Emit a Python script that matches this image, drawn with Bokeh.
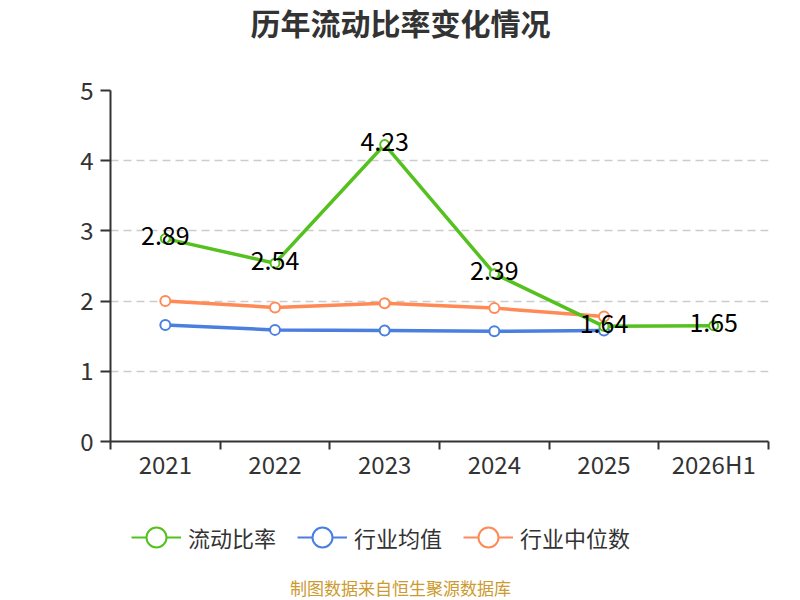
from bokeh.plotting import figure
from bokeh.layouts import column
from bokeh.models import (Legend, LegendItem, FixedTicker, ColumnDataSource,
                          LabelSet, Label, Range1d)
from bokeh.embed import file_html
from bokeh.resources import INLINE
from bokeh.core.properties import value

categories = ["2021", "2022", "2023", "2024", "2025", "2026H1"]
current_ratio = [2.89, 2.54, 4.23, 2.39, 1.64, 1.65]
industry_mean = [1.66, 1.59, 1.58, 1.57, 1.58]
industry_median = [2.00, 1.91, 1.97, 1.90, 1.78]
y_ticks = [0, 1, 2, 3, 4, 5]
series_names = ["流动比率", "行业均值", "行业中位数"]
title_text = "历年流动比率变化情况"
source_text = "制图数据来自恒生聚源数据库"

FONT = "Noto Sans CJK SC"
GREEN = "#55c11f"
BLUE = "#4a7fe0"
ORANGE = "#ff8a55"
AXIS = "#333333"
LW = 3.5

xc = [i + 0.5 for i in range(len(categories))]
series = [current_ratio, industry_mean, industry_median]
colors = [GREEN, BLUE, ORANGE]


def blank(height, y_range):
    f = figure(width=800, height=height, output_backend="svg", toolbar_location=None,
               x_axis_type=None, y_axis_type=None, min_border=0,
               x_range=Range1d(0, len(categories)), y_range=y_range,
               outline_line_color=None, background_fill_color="white",
               border_fill_color="white")
    f.xgrid.visible = False
    f.ygrid.visible = False
    return f


# ---- title strip (frame is aligned with the main chart frame, left edge at x=110) ----
pt = blank(70, Range1d(0, 1))
pt.add_layout(Label(x=290, y=49, x_units="screen", y_units="screen", text=title_text,
                    text_align="center", text_baseline="middle", text_font=FONT,
                    text_font_size="30px", text_font_style="bold", text_color="#333333"))

# ---- main chart ----
p = figure(frame_width=658, frame_height=351, output_backend="svg", toolbar_location=None,
           x_range=Range1d(0, len(categories)), y_range=Range1d(0, 5),
           min_border_left=110, min_border_right=32, min_border_top=20, min_border_bottom=60,
           outline_line_color=None, background_fill_color="white", border_fill_color="white",
           title_location=None)

p.xaxis.ticker = FixedTicker(ticks=xc, minor_ticks=list(range(len(categories) + 1)))
p.xaxis.major_label_overrides = {x: c for x, c in zip(xc, categories)}
p.xaxis.major_tick_out = 0
p.xaxis.major_tick_in = 0
p.xaxis.minor_tick_out = 8
p.xaxis.minor_tick_in = 0
p.xaxis.minor_tick_line_color = AXIS
p.xaxis.minor_tick_line_width = 2
p.xaxis.major_label_standoff = -4

p.yaxis.ticker = FixedTicker(ticks=y_ticks)
p.yaxis.major_tick_out = 10
p.yaxis.major_tick_in = 0
p.yaxis.major_tick_line_width = 2
p.yaxis.major_label_standoff = 7

for ax in (p.xaxis, p.yaxis):
    ax.axis_line_color = AXIS
    ax.axis_line_width = 2
    ax.major_tick_line_color = AXIS
    ax.major_label_text_font = FONT
    ax.major_label_text_font_size = "24px"
    ax.major_label_text_color = "#333333"

p.xgrid.grid_line_color = None
p.ygrid.grid_line_color = "#cccccc"
p.ygrid.grid_line_dash = "8 5"
p.ygrid.grid_line_width = 1.5

srcs = [ColumnDataSource(dict(x=xc[:len(v)], y=v)) for v in series]
for i in (1, 2, 0):
    p.line("x", "y", source=srcs[i], line_color=colors[i], line_width=LW)
    p.scatter("x", "y", source=srcs[i], size=10 if i else 9, fill_color="white",
              line_color=colors[i], line_width=2)

lab_src = ColumnDataSource(dict(x=xc, y=current_ratio, t=[f"{v:.2f}" for v in current_ratio]))
p.add_layout(LabelSet(x="x", y="y", text="t", source=lab_src, text_align="center",
                      text_baseline="middle", y_offset=3, text_font=value(FONT),
                      text_font_size="25px", text_color="#000000"))

# ---- legend + source strip (series drawn outside its visible range, used as legend keys) ----
pb = blank(99, Range1d(100, 101))
items = []
for name, col, src in zip(series_names, colors, srcs):
    lr = pb.line("x", "y", source=src, line_color=col, line_width=2)
    sr = pb.scatter("x", "y", source=src, size=10, fill_color="white", line_color=col,
                    line_width=2)
    items.append(LegendItem(label=name, renderers=[lr, sr]))

legend = Legend(items=items, orientation="horizontal", location=(21, 35),
                glyph_width=50, glyph_height=56, label_standoff=7, spacing=21,
                label_text_font=FONT, label_text_font_size="22px", label_text_color="#333333",
                border_line_color=None, background_fill_alpha=0, padding=0, margin=0)
pb.add_layout(legend, "center")

pb.add_layout(Label(x=290, y=13, x_units="screen", y_units="screen", text=source_text,
                    text_align="center", text_baseline="middle", text_font=FONT,
                    text_font_size="17px", text_color="#cc9a2e"))

page = column(pt, p, pb, spacing=0)

with open("out.html", "w") as f:
    f.write(file_html(page, INLINE))
